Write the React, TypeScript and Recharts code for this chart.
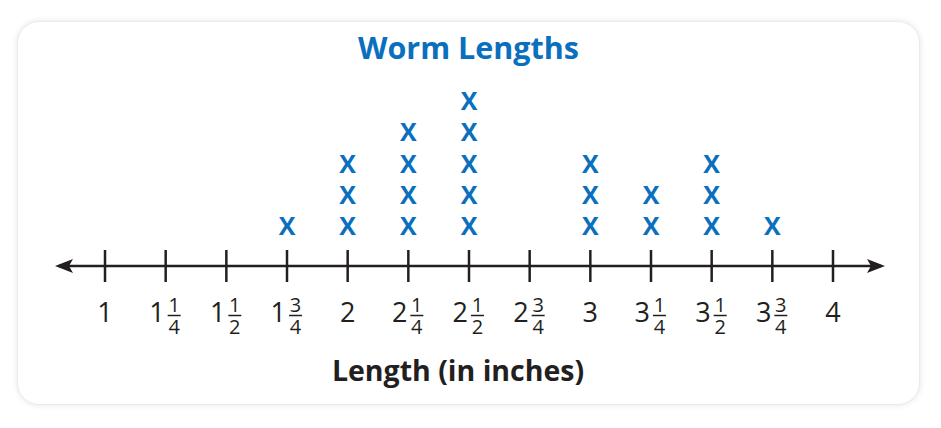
import React from 'react';
import { ScatterChart, Scatter, XAxis, YAxis } from 'recharts';

const tickValues = [1, 1.25, 1.5, 1.75, 2, 2.25, 2.5, 2.75, 3, 3.25, 3.5, 3.75, 4];
const tickLabels = ['1', '1 1/4', '1 1/2', '1 3/4', '2', '2 1/4', '2 1/2', '2 3/4', '3', '3 1/4', '3 1/2', '3 3/4', '4'];
const lengths = [1.75, 2, 2.25, 2.5, 3, 3.25, 3.5, 3.75];
const wormCounts = [1, 3, 4, 5, 3, 2, 3, 1];

const BLUE = '#0a6fbd';
const INK = '#231f20';
const FONT = '"Open Sans", "Noto Sans", sans-serif';

const points: { length: number; stack: number }[] = [];
lengths.forEach((len, i) => {
  for (let k = 1; k <= wormCounts[i]; k++) points.push({ length: len, stack: k });
});

const labelFor = (v: number) => {
  const i = tickValues.indexOf(v);
  return i >= 0 ? tickLabels[i] : String(v);
};

const Tick = (props: any) => {
  const { x, y, payload } = props;
  const label = labelFor(payload.value);
  const [whole, frac] = label.split(' ');
  const line = <line x1={x} x2={x} y1={y - 16} y2={y + 16} stroke={INK} strokeWidth={2.5} />;
  if (!frac) {
    return (
      <g>
        {line}
        <text x={x} y={y + 56} textAnchor="middle" fontFamily={FONT} fontSize={27} fill={INK}>{whole}</text>
      </g>
    );
  }
  const [num, den] = frac.split('/');
  const fx = x + 8.5;
  return (
    <g>
      {line}
      <text fontFamily={FONT} fill={INK}>
        <tspan x={x - 1} y={y + 56} textAnchor="end" fontSize={27}>{whole}</tspan>
        <tspan x={fx} y={y + 46} textAnchor="middle" fontSize={20}>{num}</tspan>
        <tspan x={fx} y={y + 67.5} textAnchor="middle" fontSize={20}>{den}</tspan>
      </text>
      <line x1={fx - 6.5} x2={fx + 6.5} y1={y + 49.5} y2={y + 49.5} stroke={INK} strokeWidth={1.5} />
    </g>
  );
};

const XMark = (props: any) => {
  const { cx, cy } = props;
  return (
    <text x={cx} y={cy + 9} textAnchor="middle" fontFamily={FONT} fontWeight={700} fontSize={25} fill={BLUE}>X</text>
  );
};

export default function App() {
  return (
    <div style={{ position: 'absolute', left: 0, top: 0, width: 941, height: 428, background: '#ffffff' }}>
      <div
        style={{
          position: 'absolute', left: 17, top: 21, width: 903, height: 384, boxSizing: 'border-box',
          border: '1px solid #ebebeb', borderRadius: 22, background: '#fff',
          boxShadow: '0 0 6px rgba(0,0,0,0.10)',
        }}
      />
      <svg width={0} height={0} style={{ position: 'absolute' }}>
        <defs>
          <marker id="arrowHead" viewBox="-16 -9 22 18" refX={0} refY={0} markerWidth={22} markerHeight={18}
            markerUnits="userSpaceOnUse" orient="auto-start-reverse">
            <path d="M4,0 L-14,-7 L-10,0 L-14,7 Z" fill={INK} />
          </marker>
        </defs>
      </svg>
      <div style={{ position: 'absolute', left: 0, top: 0 }}>
        <ScatterChart width={941} height={428} margin={{ top: 69, right: 60, bottom: 102, left: 59 }}>
          <XAxis
            type="number"
            dataKey="length"
            domain={[0.8104, 4.1978]}
            ticks={tickValues}
            interval={0}
            allowDataOverflow
            height={60}
            tickSize={0}
            tickMargin={0}
            tick={<Tick />}
            axisLine={{ stroke: INK, strokeWidth: 2.5, markerStart: 'url(#arrowHead)', markerEnd: 'url(#arrowHead)' } as any}
            label={{
              value: 'Length (in inches)', position: 'bottom', offset: 35, dx: -12,
              style: { fontFamily: FONT, fontWeight: 700, fontSize: 28.5, fill: INK },
            } as any}
          />
          <YAxis type="number" dataKey="stack" domain={[-0.28, 6.024]} hide allowDataOverflow />
          <Scatter data={points} shape={<XMark />} isAnimationActive={false} />
        </ScatterChart>
      </div>
      <svg width={941} height={428} style={{ position: 'absolute', left: 0, top: 0, pointerEvents: 'none' }}>
        <text x={468.5} y={59} textAnchor="middle" fontFamily={FONT} fontWeight={700} fontSize={30.5} fill={BLUE}>Worm Lengths</text>
      </svg>
    </div>
  );
}
